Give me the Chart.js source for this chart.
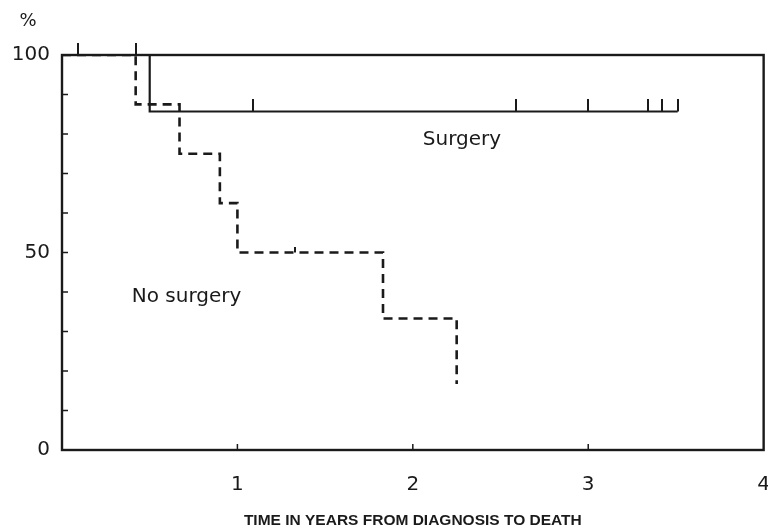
<!DOCTYPE html>
<html lang="en">
<head>
    <meta charset="UTF-8">
    <title>Survival: surgery vs no surgery</title>
    <script src="https://cdn.jsdelivr.net/npm/chart.js@4.4.1/dist/chart.umd.min.js"></script>
    <style>
        html, body { margin: 0; padding: 0; background: #fff; overflow: hidden; }
        .chart-container { width: 785px; height: 530px; }
    </style>
</head>
<body>
    <div class="chart-container">
        <canvas id="kmChart" width="785" height="530"></canvas>
    </div>

    <script>
        // Kaplan-Meier steps (years, % surviving)
        const surgeryTimes = [0, 0.50, 3.51];
        const surgerySurv = [100, 85.7, 85.7];
        const noSurgeryTimes = [0, 0.42, 0.67, 0.90, 1.00, 1.83, 2.25];
        const noSurgerySurv = [100, 87.5, 75, 62.5, 50, 33.3, 16.7];

        // censored observations
        const surgeryCensorTimes = [0.09, 0.42, 1.09, 2.59, 3.00, 3.34, 3.42, 3.51];
        const surgeryCensorSurv = [100, 100, 85.7, 85.7, 85.7, 85.7, 85.7, 85.7];
        const noSurgeryCensorTimes = [1.33];
        const noSurgeryCensorSurv = [50];

        // axes
        const xTickValues = [0, 1, 2, 3, 4];
        const yTickValues = [0, 50, 100];
        const yInnerTicks = [10, 20, 30, 40, 50, 60, 70, 80, 90];
        const xInnerTicks = [1, 2, 3];

        // curve labels: [text, year, percent]
        const curveLabels = [
            ['Surgery', 2.28, 78.5],
            ['No surgery', 0.71, 38.8]
        ];
        const xTitle = 'TIME IN YEARS FROM DIAGNOSIS TO DEATH';
        const yUnit = '%';

        const ink = '#1a1a1a';

        function censorMark(len) {
            const c = document.createElement('canvas');
            c.width = 2;
            c.height = len * 2;
            const g = c.getContext('2d');
            g.fillStyle = ink;
            g.fillRect(0, 0, 2, len);
            return c;
        }

        const toPoints = (xs, ys) => xs.map((x, i) => ({ x: x, y: ys[i] }));

        const framePlugin = {
            id: 'frame',
            afterDraw(chart) {
                const ctx = chart.ctx;
                const { left, right, top, bottom } = chart.chartArea;
                const xs = chart.scales.x, ys = chart.scales.y;
                ctx.save();
                ctx.strokeStyle = ink;
                ctx.lineWidth = 2.4;
                ctx.strokeRect(left, top, right - left, bottom - top);

                ctx.lineWidth = 1.5;
                ctx.beginPath();
                yInnerTicks.forEach(v => {
                    const y = ys.getPixelForValue(v);
                    ctx.moveTo(left, y);
                    ctx.lineTo(left + 6, y);
                });
                xInnerTicks.forEach(v => {
                    const x = xs.getPixelForValue(v);
                    ctx.moveTo(x, bottom);
                    ctx.lineTo(x, bottom - 6);
                });
                ctx.stroke();

                ctx.fillStyle = ink;
                ctx.font = '20px "DejaVu Sans", sans-serif';
                ctx.textAlign = 'center';
                ctx.textBaseline = 'middle';
                curveLabels.forEach(([t, xv, yv]) => {
                    ctx.fillText(t, xs.getPixelForValue(xv), ys.getPixelForValue(yv));
                });

                ctx.font = '18px "DejaVu Sans", sans-serif';
                ctx.fillText(yUnit, left - 34, top - 34);
                ctx.restore();
            }
        };

        const config = {
            type: 'line',
            data: {
                datasets: [
                    {
                        label: 'Surgery',
                        data: toPoints(surgeryTimes, surgerySurv),
                        stepped: 'before',
                        borderColor: ink,
                        borderWidth: 2.2,
                        pointRadius: 0,
                        fill: false
                    },
                    {
                        label: 'No surgery',
                        data: toPoints(noSurgeryTimes, noSurgerySurv),
                        stepped: 'before',
                        borderColor: ink,
                        borderWidth: 2.6,
                        borderDash: [9, 6],
                        pointRadius: 0,
                        fill: false
                    },
                    {
                        label: 'Surgery censored',
                        data: toPoints(surgeryCensorTimes, surgeryCensorSurv),
                        showLine: false,
                        pointStyle: censorMark(12),
                        pointRadius: 6,
                        clip: false
                    },
                    {
                        label: 'No surgery censored',
                        data: toPoints(noSurgeryCensorTimes, noSurgeryCensorSurv),
                        showLine: false,
                        pointStyle: censorMark(6),
                        pointRadius: 3,
                        clip: false
                    }
                ]
            },
            options: {
                responsive: false,
                animation: false,
                layout: { padding: { top: 55, right: 0, left: 0, bottom: 0 } },
                plugins: {
                    legend: { display: false },
                    tooltip: { enabled: false }
                },
                scales: {
                    x: {
                        type: 'linear',
                        min: 0,
                        max: 4,
                        afterBuildTicks: s => { s.ticks = xTickValues.map(v => ({ value: v })); },
                        afterFit: s => { s.height = 80; },
                        grid: { display: false },
                        border: { display: true, color: ink, width: 2 },
                        ticks: {
                            color: ink,
                            padding: 15,
                            maxRotation: 0,
                            font: { family: '"DejaVu Sans", sans-serif', size: 20 },
                            callback: v => (v === 0 ? '' : v)
                        },
                        title: {
                            display: true,
                            text: xTitle,
                            color: ink,
                            padding: { top: 10, bottom: 0 },
                            font: { family: '"Liberation Sans", Arial, sans-serif', size: 15.5, weight: 'bold' }
                        }
                    },
                    y: {
                        min: 0,
                        max: 100,
                        afterBuildTicks: s => { s.ticks = yTickValues.map(v => ({ value: v })); },
                        afterFit: s => { s.width = 62; },
                        grid: { display: false },
                        border: { display: true, color: ink, width: 2 },
                        ticks: {
                            color: ink,
                            padding: 4,
                            font: { family: '"DejaVu Sans", sans-serif', size: 20 }
                        }
                    }
                }
            },
            plugins: [framePlugin]
        };

        new Chart(document.getElementById('kmChart').getContext('2d'), config);
    </script>
</body>
</html>
